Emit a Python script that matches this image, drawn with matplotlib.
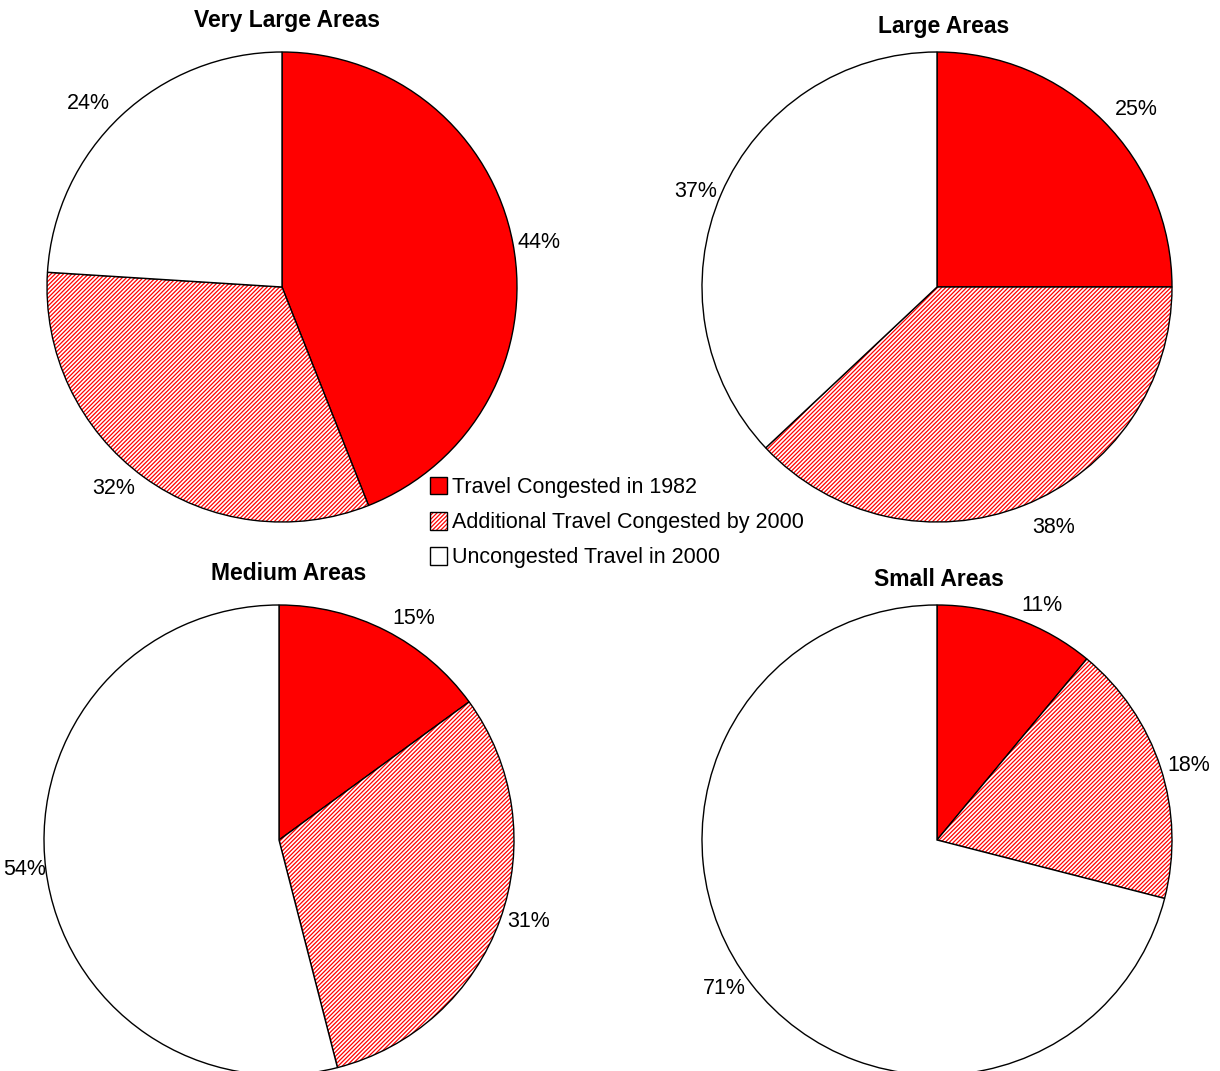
import numpy as np
import matplotlib
matplotlib.use("Agg")
import matplotlib.pyplot as plt

plt.rcParams['font.family'] = ['Liberation Sans', 'DejaVu Sans']
plt.rcParams['hatch.linewidth'] = 0.9

categories = ['Travel Congested in 1982',
              'Additional Travel Congested by 2000',
              'Uncongested Travel in 2000']
titles = ['Very Large Areas', 'Large Areas', 'Medium Areas', 'Small Areas']
very_large = [44, 32, 24]
large = [25, 38, 37]
medium = [15, 31, 54]
small = [11, 18, 71]
series = [very_large, large, medium, small]

W, H = 1220, 1071
R = 235
# pie centres in pixels (from top-left)
centres = [(282, 287), (937, 287), (279, 840), (937, 840)]
title_y = [20, 26, 574, 580]
title_x = [287, 944, 289, 939]
# distance of each percent label from centre, in radii
label_dist = [[1.02, 1.06, 1.07], [1.07, 1.10, 1.02],
              [1.06, 1.03, 1.00], [1.06, 1.03, 1.03]]

fig = plt.figure(figsize=(W / 100, H / 100), dpi=100)

red = (1, 0, 0, 1)
first_wedges = None
for vals, (cx, cy), t, tx, ty, ld in zip(series, centres, titles,
                                         title_x, title_y, label_dist):
    ax = fig.add_axes([(cx - R) / W, (H - cy - R) / H, 2 * R / W, 2 * R / H])
    wedges, texts = ax.pie(vals, labels=[f'{v}%' for v in vals],
                           colors=['red', 'white', 'white'],
                           startangle=90, counterclock=False,
                           labeldistance=1.0, radius=1,
                           wedgeprops=dict(edgecolor='black', linewidth=1.0),
                           textprops=dict(fontsize=15.5))
    for txt, d in zip(texts, ld):
        x, y = txt.get_position()
        txt.set_position((x * d, y * d))
        txt.set_clip_on(False)
    wedges[1].set_hatch('/' * 8)
    wedges[1]._hatch_color = red
    ax.set_xlim(-1, 1)
    ax.set_ylim(-1, 1)
    ax.set_aspect('equal')
    ax.axis('off')
    for w in wedges:
        w.set_clip_on(False)
    fig.text(tx / W, 1 - ty / H, t, ha='center', va='center',
             fontsize=16.5, fontweight='bold')
    if first_wedges is None:
        first_wedges = wedges

leg = fig.legend(first_wedges, categories, loc='upper left',
                 bbox_to_anchor=(421 / W, 1 - 468 / H), frameon=False,
                 fontsize=15.5, handlelength=0.8, handleheight=0.9,
                 handletextpad=0.25, labelspacing=0.64, borderaxespad=0)
for p in leg.get_patches():
    if p.get_hatch():
        p._hatch_color = red

fig.savefig('out.png', dpi=100)
